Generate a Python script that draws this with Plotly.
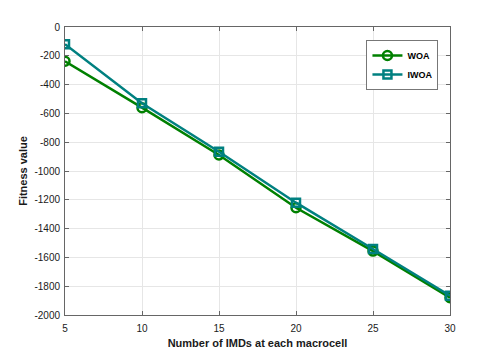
import plotly.graph_objects as go

imds = [5, 10, 15, 20, 25, 30]
woa = [-238, -560, -889, -1255, -1556, -1880]
iwoa = [-120, -530, -866, -1220, -1542, -1866]
y_ticks = list(range(-2000, 1, 200))
y_labels = [str(v).replace('\u2212', '-') for v in y_ticks]

fig = go.Figure()
fig.add_trace(go.Scatter(x=imds, y=woa, name='<b>WOA</b>', mode='lines+markers',
                         line=dict(color='#008000', width=2.5),
                         marker=dict(symbol='circle-open', size=9, color='#008000',
                                     line=dict(width=2.5))))
fig.add_trace(go.Scatter(x=imds, y=iwoa, name='<b>IWOA</b>', mode='lines+markers',
                         line=dict(color='#008080', width=2.5),
                         marker=dict(symbol='square-open', size=8, color='#008080',
                                     line=dict(width=2.5))))

axis_style = dict(showline=True, linecolor='#666666', linewidth=1, mirror='ticks',
                  ticks='inside', ticklen=4, tickcolor='#666666', automargin=False,
                  showgrid=True, gridcolor='#e6e6e6', zeroline=False,
                  tickfont=dict(family='Liberation Sans', size=10, color='#1a1a1a'))

fig.update_xaxes(range=[5, 30], tickvals=imds, ticklabelstandoff=4, **axis_style,
                 title=dict(text='<b>Number of IMDs at each macrocell</b>', standoff=6,
                            font=dict(family='Liberation Sans', size=11, color='#1a1a1a')))
fig.update_yaxes(range=[-2000, 0], tickvals=y_ticks, ticktext=y_labels, ticklabelstandoff=2,
                 **axis_style,
                 title=dict(text='<b>Fitness value</b>', standoff=4,
                            font=dict(family='Liberation Sans', size=11, color='#1a1a1a')))

# page body has an 8px margin, so the figure is sized to fit inside it
fig.update_layout(width=490, height=346, plot_bgcolor='white', paper_bgcolor='white',
                  margin=dict(l=57, r=48, t=19, b=39),
                  legend=dict(x=0.97, y=0.955, xanchor='right', yanchor='top',
                              bordercolor='#777777', borderwidth=1, bgcolor='white',
                              font=dict(family='Liberation Sans', size=9, color='black'),
                              itemwidth=30, tracegroupgap=0),
                  font=dict(family='Liberation Sans'))

fig.write_html("out.html")
